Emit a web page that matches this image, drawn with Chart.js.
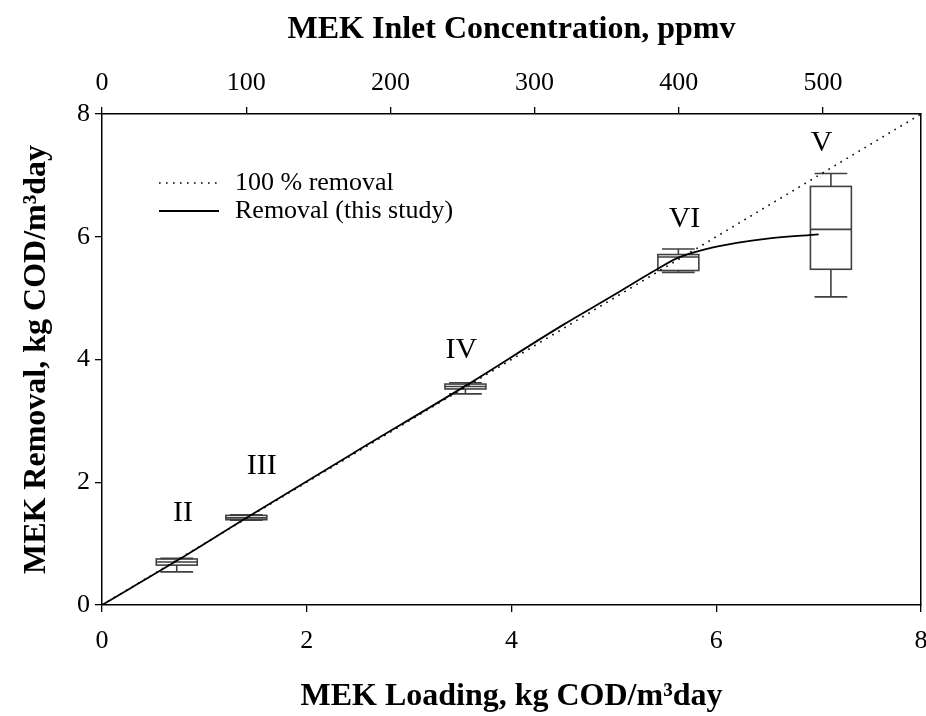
<!DOCTYPE html>
<html>
<head>
<meta charset="utf-8">
<title>MEK removal vs loading</title>
<script src="https://cdn.jsdelivr.net/npm/chart.js@4"></script>
<style>
  html, body { margin: 0; padding: 0; background: #fff; }
  #wrap { width: 926px; height: 716px; }
</style>
</head>
<body>
<div id="wrap"><canvas id="mekChart" width="926" height="716"></canvas></div>
<script>
// 1:1 reference line (everything fed is removed)
const idealLoading = [0, 8];
const idealRemoval = [0, 8];

// fitted removal curve
const fitLoading = [0, 0.75, 1.42, 2.5, 3.55, 4.5, 5.0, 5.4, 5.63, 5.9, 6.2, 6.5, 7.0];
const fitRemoval = [0, 0.74, 1.43, 2.52, 3.57, 4.56, 5.05, 5.45, 5.66, 5.8, 5.9, 5.97, 6.04];

// operating phases, box statistics
const phaseNames  = ["II", "III", "IV", "VI", "V"];
const phaseLoad   = [0.73, 1.41, 3.55, 5.63, 7.12];
const whiskerLow  = [0.54, 1.38, 3.44, 5.42, 5.02];
const quart1      = [0.65, 1.39, 3.52, 5.45, 5.47];
const medians     = [0.70, 1.42, 3.56, 5.67, 6.12];
const quart3      = [0.75, 1.46, 3.60, 5.71, 6.82];
const whiskerHigh = [0.76, 1.47, 3.62, 5.80, 7.03];
const phaseLabelX = [0.79, 1.56, 3.51, 5.69, 7.03];
const phaseLabelY = [1.50, 2.26, 4.15, 6.28, 7.53];

const loadTicks = [0, 2, 4, 6, 8];
const ppmvTicks = [0, 100, 200, 300, 400, 500];

const SERIF = "'Liberation Serif', 'Times New Roman', serif";
const BOX_W = 0.40;
const CAP_W = 0.32;

const boxPlot = {
  id: "boxPlot",
  beforeDatasetsDraw(chart) {
    const { ctx, scales: { x, y } } = chart;
    ctx.save();
    ctx.strokeStyle = "#404040";
    ctx.lineWidth = 1.6;
    phaseLoad.forEach((lx, i) => {
      const xc = x.getPixelForValue(lx);
      const bl = x.getPixelForValue(lx - BOX_W / 2), br = x.getPixelForValue(lx + BOX_W / 2);
      const cl = x.getPixelForValue(lx - CAP_W / 2), cr = x.getPixelForValue(lx + CAP_W / 2);
      const yLo = y.getPixelForValue(whiskerLow[i]), yHi = y.getPixelForValue(whiskerHigh[i]);
      const y1 = y.getPixelForValue(quart1[i]), y3 = y.getPixelForValue(quart3[i]);
      const ym = y.getPixelForValue(medians[i]);
      ctx.beginPath();
      ctx.moveTo(xc, yLo); ctx.lineTo(xc, y1);
      ctx.moveTo(xc, y3); ctx.lineTo(xc, yHi);
      ctx.moveTo(cl, yLo); ctx.lineTo(cr, yLo);
      ctx.moveTo(cl, yHi); ctx.lineTo(cr, yHi);
      ctx.moveTo(bl, ym); ctx.lineTo(br, ym);
      ctx.stroke();
      ctx.strokeRect(bl, y3, br - bl, y1 - y3);
    });
    ctx.fillStyle = "#000";
    ctx.font = "30px " + SERIF;
    ctx.textAlign = "center";
    ctx.textBaseline = "middle";
    phaseNames.forEach((n, i) => {
      ctx.fillText(n, x.getPixelForValue(phaseLabelX[i]), y.getPixelForValue(phaseLabelY[i]));
    });
    ctx.restore();
  },
  afterDraw(chart) {
    // legend in the upper left of the plot
    const { ctx, chartArea: a } = chart;
    ctx.save();
    ctx.font = "26px " + SERIF;
    ctx.fillStyle = "#000";
    ctx.textBaseline = "middle";
    chart.data.datasets.forEach((ds, i) => {
      const yy = a.top + 69 + i * 28;
      ctx.beginPath();
      ctx.strokeStyle = ds.borderColor;
      ctx.lineWidth = ds.borderWidth;
      ctx.setLineDash(ds.borderDash || []);
      ctx.moveTo(a.left + 57, yy);
      ctx.lineTo(a.left + 117, yy);
      ctx.stroke();
      ctx.fillText(ds.label, a.left + 133, yy);
    });
    ctx.restore();
  }
};

const tickFont = { family: SERIF, size: 26 };
const titleFont = { family: SERIF, size: 32, weight: "bold" };
const edge = { display: true, color: "#000", width: 1.5 };

// fixed axis bands; no extra room for the end tick labels
const fixHeight = (h) => (s) => { s.height = h; s.paddingLeft = 0; s.paddingRight = 0; };

new Chart(document.getElementById("mekChart"), {
  type: "line",
  data: {
    datasets: [
      {
        label: "100 % removal",
        data: idealLoading.map((v, i) => ({ x: v, y: idealRemoval[i] })),
        borderColor: "#000", borderWidth: 1.6, borderDash: [1.6, 5.4],
        pointRadius: 0, fill: false
      },
      {
        label: "Removal (this study)",
        data: fitLoading.map((v, i) => ({ x: v, y: fitRemoval[i] })),
        borderColor: "#000", borderWidth: 1.8, cubicInterpolationMode: "monotone",
        pointRadius: 0, fill: false
      }
    ]
  },
  options: {
    responsive: false,
    animation: false,
    layout: { padding: 0, autoPadding: false },
    plugins: { legend: { display: false }, tooltip: { enabled: false } },
    scales: {
      x: {
        type: "linear", position: "bottom", min: 0, max: 8,
        afterBuildTicks: (s) => { s.ticks = loadTicks.map(v => ({ value: v })); },
        afterFit: fixHeight(111),
        ticks: { font: tickFont, color: "#000", padding: 14 },
        grid: { drawOnChartArea: false, drawTicks: true, tickLength: 7, color: "#000", lineWidth: 1.3 },
        border: edge,
        title: { display: true, text: "MEK Loading, kg COD/m³day", font: titleFont, color: "#000", padding: { top: 0, bottom: 0 } }
      },
      x2: {
        type: "linear", position: "top", min: 0, max: 568,
        afterBuildTicks: (s) => { s.ticks = ppmvTicks.map(v => ({ value: v })); },
        afterFit: fixHeight(114),
        ticks: { font: tickFont, color: "#000", padding: 8 },
        grid: { drawOnChartArea: false, drawTicks: true, tickLength: 7, color: "#000", lineWidth: 1.3 },
        border: edge,
        title: { display: true, text: "MEK Inlet Concentration, ppmv", font: titleFont, color: "#000", padding: { top: 11, bottom: 0 } }
      },
      y: {
        type: "linear", position: "left", min: 0, max: 8,
        afterBuildTicks: (s) => { s.ticks = loadTicks.map(v => ({ value: v })); },
        afterFit: (s) => { s.width = 102; s.paddingTop = 0; s.paddingBottom = 0; },
        ticks: { font: tickFont, color: "#000", padding: 5 },
        grid: { drawOnChartArea: false, drawTicks: true, tickLength: 7, color: "#000", lineWidth: 1.3 },
        border: edge,
        title: { display: true, text: "MEK Removal, kg COD/m³day", font: titleFont, color: "#000", padding: { top: 18, bottom: 0 } }
      },
      y2: {
        type: "linear", position: "right", min: 0, max: 8,
        afterFit: (s) => { s.width = 5; s.paddingTop = 0; s.paddingBottom = 0; },
        ticks: { display: false },
        grid: { drawOnChartArea: false, drawTicks: false },
        border: edge
      }
    }
  },
  plugins: [boxPlot]
});
</script>
</body>
</html>
